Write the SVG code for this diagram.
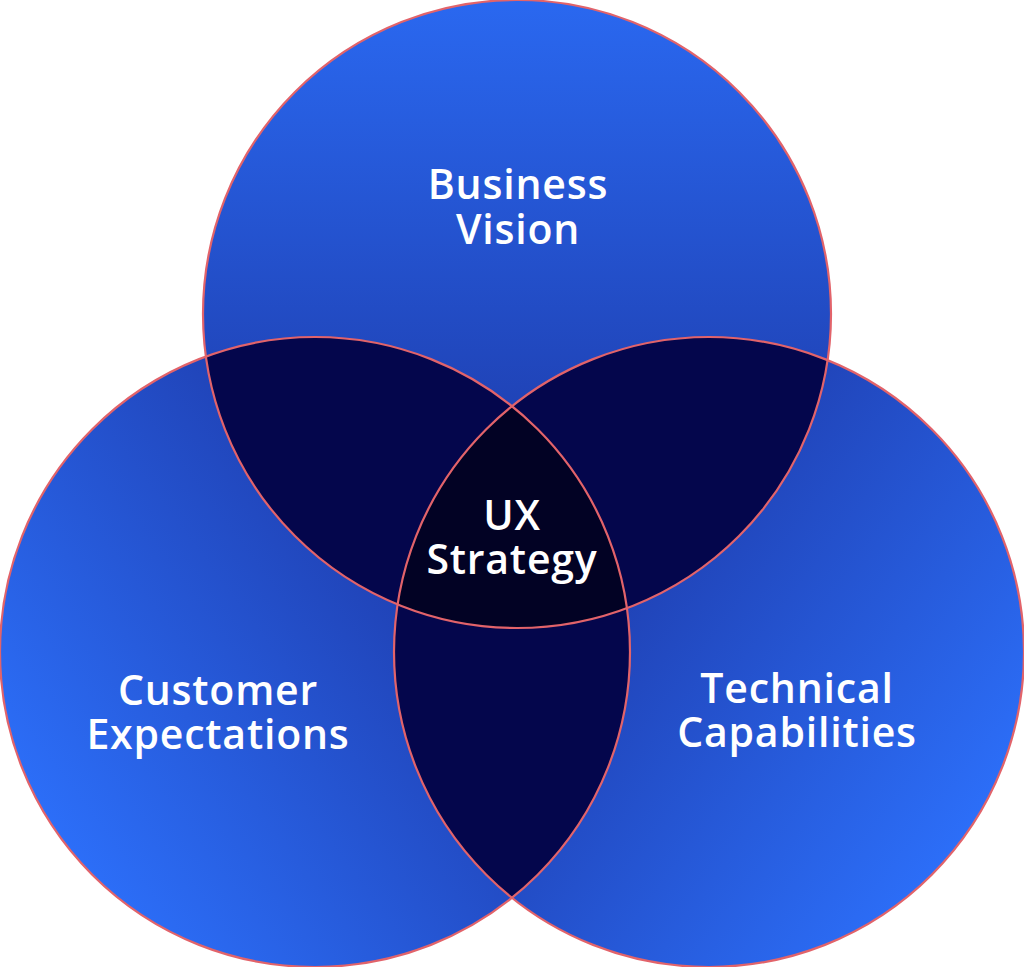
<svg xmlns="http://www.w3.org/2000/svg" width="1024" height="967" viewBox="0 0 1024 967">
<style>
.lbl{font-family:"Open Sans",Lato,"Liberation Sans",sans-serif;font-weight:600;font-size:41px;letter-spacing:0.8px;fill:#ffffff;text-anchor:middle;font-variant-ligatures:none}
.ring{fill:none;stroke:#e2636a;stroke-width:2.2}
</style>
<defs>
<linearGradient id="gTop" x1="0" y1="0" x2="0" y2="1">
<stop offset="0" stop-color="#2a68f0"/>
<stop offset="1" stop-color="#1a2f98"/>
</linearGradient>
<linearGradient id="gLeft" x1="0.1" y1="0.8" x2="0.9" y2="0.2">
<stop offset="0" stop-color="#2c6ef8"/>
<stop offset="1" stop-color="#1a2d96"/>
</linearGradient>
<linearGradient id="gRight" x1="0.9" y1="0.8" x2="0.1" y2="0.2">
<stop offset="0" stop-color="#2c6ef8"/>
<stop offset="1" stop-color="#1a2d96"/>
</linearGradient>
<clipPath id="cTop"><circle cx="517" cy="314" r="314"/></clipPath>
<clipPath id="cLeft"><circle cx="315" cy="652" r="315"/></clipPath>
<clipPath id="cRight"><circle cx="709" cy="652" r="315"/></clipPath>
</defs>
<g id="circle-left"><circle cx="315" cy="652" r="315" fill="url(#gLeft)"/></g>
<g id="circle-right"><circle cx="709" cy="652" r="315" fill="url(#gRight)"/></g>
<g id="circle-top"><circle cx="517" cy="314" r="314" fill="url(#gTop)"/></g>
<g id="overlaps">
<circle cx="517" cy="314" r="314" fill="#04064c" clip-path="url(#cLeft)"/>
<circle cx="517" cy="314" r="314" fill="#04064c" clip-path="url(#cRight)"/>
<circle cx="315" cy="652" r="315" fill="#04064c" clip-path="url(#cRight)"/>
<g clip-path="url(#cLeft)"><circle cx="517" cy="314" r="314" fill="#020224" clip-path="url(#cRight)"/></g>
</g>
<g id="outlines">
<circle class="ring" cx="315" cy="652" r="315"/>
<circle class="ring" cx="709" cy="652" r="315"/>
<circle class="ring" cx="517" cy="314" r="314"/>
</g>
<g id="label-business"><text class="lbl" x="518" y="199">Business</text><text class="lbl" x="518" y="244">Vision</text></g>
<g id="label-ux"><text class="lbl" x="512" y="530">UX</text><text class="lbl" x="512" y="574">Strategy</text></g>
<g id="label-customer"><text class="lbl" x="218" y="705">Customer</text><text class="lbl" x="218" y="749">Expectations</text></g>
<g id="label-technical"><text class="lbl" x="797" y="703">Technical</text><text class="lbl" x="797" y="747">Capabilities</text></g>
</svg>
